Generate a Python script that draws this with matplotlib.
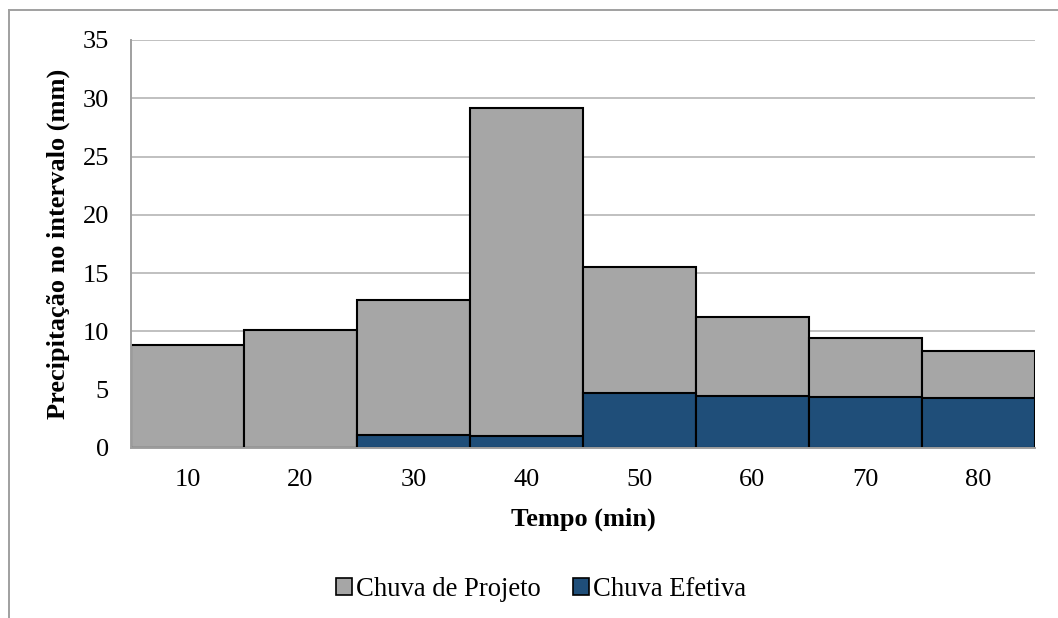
import matplotlib
matplotlib.use('Agg')
import matplotlib.pyplot as plt
from matplotlib.patches import Patch
from matplotlib.lines import Line2D

# Dados
tempo = [10, 20, 30, 40, 50, 60, 70, 80]
chuva_projeto = [8.8, 10.1, 12.7, 29.2, 15.5, 11.2, 9.4, 8.3]
chuva_efetiva = [0.0, 0.0, 1.1, 1.0, 4.7, 4.5, 4.4, 4.3]

cinza = '#a6a6a6'
azul = '#1f4e79'
grade = '#c0c0c0'

plt.rcParams['font.family'] = ['Liberation Serif', 'DejaVu Serif']

fig = plt.figure(figsize=(10.58, 6.18), dpi=100)
W, H = 1058.0, 618.0
ax = fig.add_axes([131 / W, 1 - 448 / H, (1035 - 131) / W, (448 - 40) / H])

pos = range(len(tempo))
ax.bar(pos, chuva_projeto, width=1.0, color=cinza, edgecolor='black',
       linewidth=1.5, zorder=2)
ax.bar(pos, chuva_efetiva, width=1.0, color=azul, edgecolor='black',
       linewidth=1.5, zorder=3)

ax.set_xlim(-0.5, len(tempo) - 0.5)
ax.set_ylim(0, 35)
ax.set_yticks(range(0, 36, 5))
ax.set_xticks(list(pos))
ax.set_xticklabels([str(t) for t in tempo])
ax.tick_params(axis='both', length=0, labelsize=19)
ax.tick_params(axis='y', pad=16)
ax.tick_params(axis='x', pad=15)

ax.yaxis.grid(True, color=grade, linewidth=1.4, zorder=0)
ax.set_axisbelow(True)
for lado in ['top', 'right']:
    ax.spines[lado].set_visible(False)
for lado in ['left', 'bottom']:
    ax.spines[lado].set_color('#a0a0a0')
    ax.spines[lado].set_linewidth(1.4)
    ax.spines[lado].set_zorder(4)

ax.set_xlabel('Tempo (min)', fontsize=19, fontweight='bold', labelpad=12)
ax.set_ylabel(u'Precipitação no intervalo (mm)', fontsize=19,
              fontweight='bold', labelpad=9)

handles = [Patch(facecolor=cinza, edgecolor='black', linewidth=1.2),
           Patch(facecolor=azul, edgecolor='black', linewidth=1.2)]
fig.legend(handles, ['Chuva de Projeto', 'Chuva Efetiva'], loc='center',
           bbox_to_anchor=(541 / W, 1 - 589 / H), ncol=2, frameon=False,
           fontsize=19.2, handlelength=0.6, handleheight=0.6,
           handletextpad=0.15, columnspacing=1.2)

# Moldura do gráfico (só topo e esquerda aparecem)
fig.add_artist(Line2D([9 / W, 9 / W], [0, 1 - 10 / H], color='#a0a0a0',
                      linewidth=1.4, transform=fig.transFigure))
fig.add_artist(Line2D([9 / W, 1], [1 - 10 / H, 1 - 10 / H], color='#a0a0a0',
                      linewidth=1.4, transform=fig.transFigure))

fig.savefig('out.png', dpi=100)
